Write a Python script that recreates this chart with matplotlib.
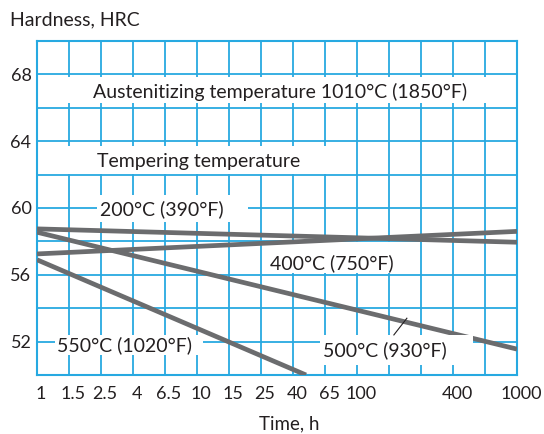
import matplotlib
matplotlib.use("Agg")
import matplotlib.pyplot as plt
import matplotlib.transforms as mtransforms
from matplotlib.patches import Rectangle

plt.rcParams['font.family'] = ['Lato', 'DejaVu Sans']

# Data ==================================================================
time_ends = [1, 1000]          # hours
hrc_200 = [58.75, 57.95]       # 200 C (390 F)
hrc_400 = [57.25, 58.6]        # 400 C (750 F)
hrc_500 = [58.55, 51.55]       # 500 C (930 F)
time_550 = [1, 48]
hrc_550 = [56.9, 50.0]         # 550 C (1020 F)

tick_steps = [0, 1, 2, 3, 4, 5, 6, 7, 8, 9, 10, 13, 15]   # grid index, 10**(k/5)
tick_labels = ['1', '1.5', '2.5', '4', '6.5', '10', '15', '25', '40', '65',
               '100', '400', '1000']
hrc_ticks = [52, 56, 60, 64, 68]

grid_c = '#27a9e1'
line_c = '#6b6c6e'
text_c = '#231f20'

# Layout ================================================================
fig = plt.figure(figsize=(5.44, 4.34), dpi=100)
ax = fig.add_axes([37/544, 59/434, 480/544, 334/434])
ax.set_xscale('log')
ax.set_xlim(1, 1000)
ax.set_ylim(50, 70)

# grid: 0.2 decade steps, 2 HRC steps
for k in range(16):
    ax.axvline(10**(k/5), color=grid_c, lw=1.3, zorder=1)
for h in range(50, 71, 2):
    ax.axhline(h, color=grid_c, lw=1.3, zorder=1)
for s in ax.spines.values():
    s.set_color(grid_c)
    s.set_linewidth(1.5)

ax.set_xticks([10**(k/5) for k in tick_steps])
ax.set_xticklabels(tick_labels)
ax.xaxis.set_minor_locator(matplotlib.ticker.NullLocator())
ax.set_yticks(hrc_ticks)
ax.tick_params(length=0, labelsize=13, colors=text_c)
ax.tick_params(axis='x', pad=8)
ax.tick_params(axis='y', pad=4)
# labels sit a little right of their grid lines in the original
shift = mtransforms.ScaledTranslation(4/100, 0, fig.dpi_scale_trans)
for lbl in ax.get_xticklabels():
    lbl.set_transform(lbl.get_transform() + shift)

# white label boxes that cut the grid
yt = ax.get_yaxis_transform()
ax.add_patch(Rectangle((0.003, 66.3), 1.0, 1.55, transform=yt, fc='white',
                       ec='none', zorder=2, clip_on=False))
ax.add_patch(Rectangle((0.006, 62.05), 0.625, 1.65, transform=yt, fc='white',
                       ec='none', zorder=2))
ax.add_patch(Rectangle((2.37, 59.15), 20.8 - 2.37, 1.6, fc='white', ec='none', zorder=2))
ax.add_patch(Rectangle((27.8, 56.1), 180 - 27.8, 1.85, fc='white', ec='none', zorder=2))
ax.add_patch(Rectangle((1.30, 51.2), 10.9 - 1.30, 1.2, fc='white', ec='none', zorder=2))
ax.add_patch(Rectangle((58.7, 50.6), 530 - 58.7, 1.82, fc='white', ec='none', zorder=4))

# curves
kw = dict(color=line_c, lw=3.4, solid_capstyle='butt', zorder=3)
ax.plot(time_ends, hrc_200, **kw)
ax.plot(time_ends, hrc_400, **kw)
ax.plot(time_ends, hrc_500, **kw)
ax.plot(time_550, hrc_550, **kw)
ax.plot([170, 205], [52.4, 53.4], color=text_c, lw=0.8, zorder=5)

tk = dict(fontsize=14, color=text_c, va='center', ha='left', zorder=6)
ax.text(2.24, 66.95, 'Austenitizing temperature 1010°C (1850°F)', **tk)
ax.text(2.37, 62.8, 'Tempering temperature', **tk)
ax.text(2.47, 59.9, '200°C (390°F)', **tk)
ax.text(28.6, 56.7, '400°C (750°F)', **tk)
ax.text(61.6, 51.5, '500°C (930°F)', **tk)
ax.text(1.33, 51.8, '550°C (1020°F)', **tk)

fig.text(10/544, 1 - 20/434, 'Hardness, HRC', fontsize=14, color=text_c, va='center')
fig.text(289/544, 1 - 424/434, 'Time, h', fontsize=13.5, color=text_c,
         va='center', ha='center')

fig.savefig('out.png', dpi=100)
